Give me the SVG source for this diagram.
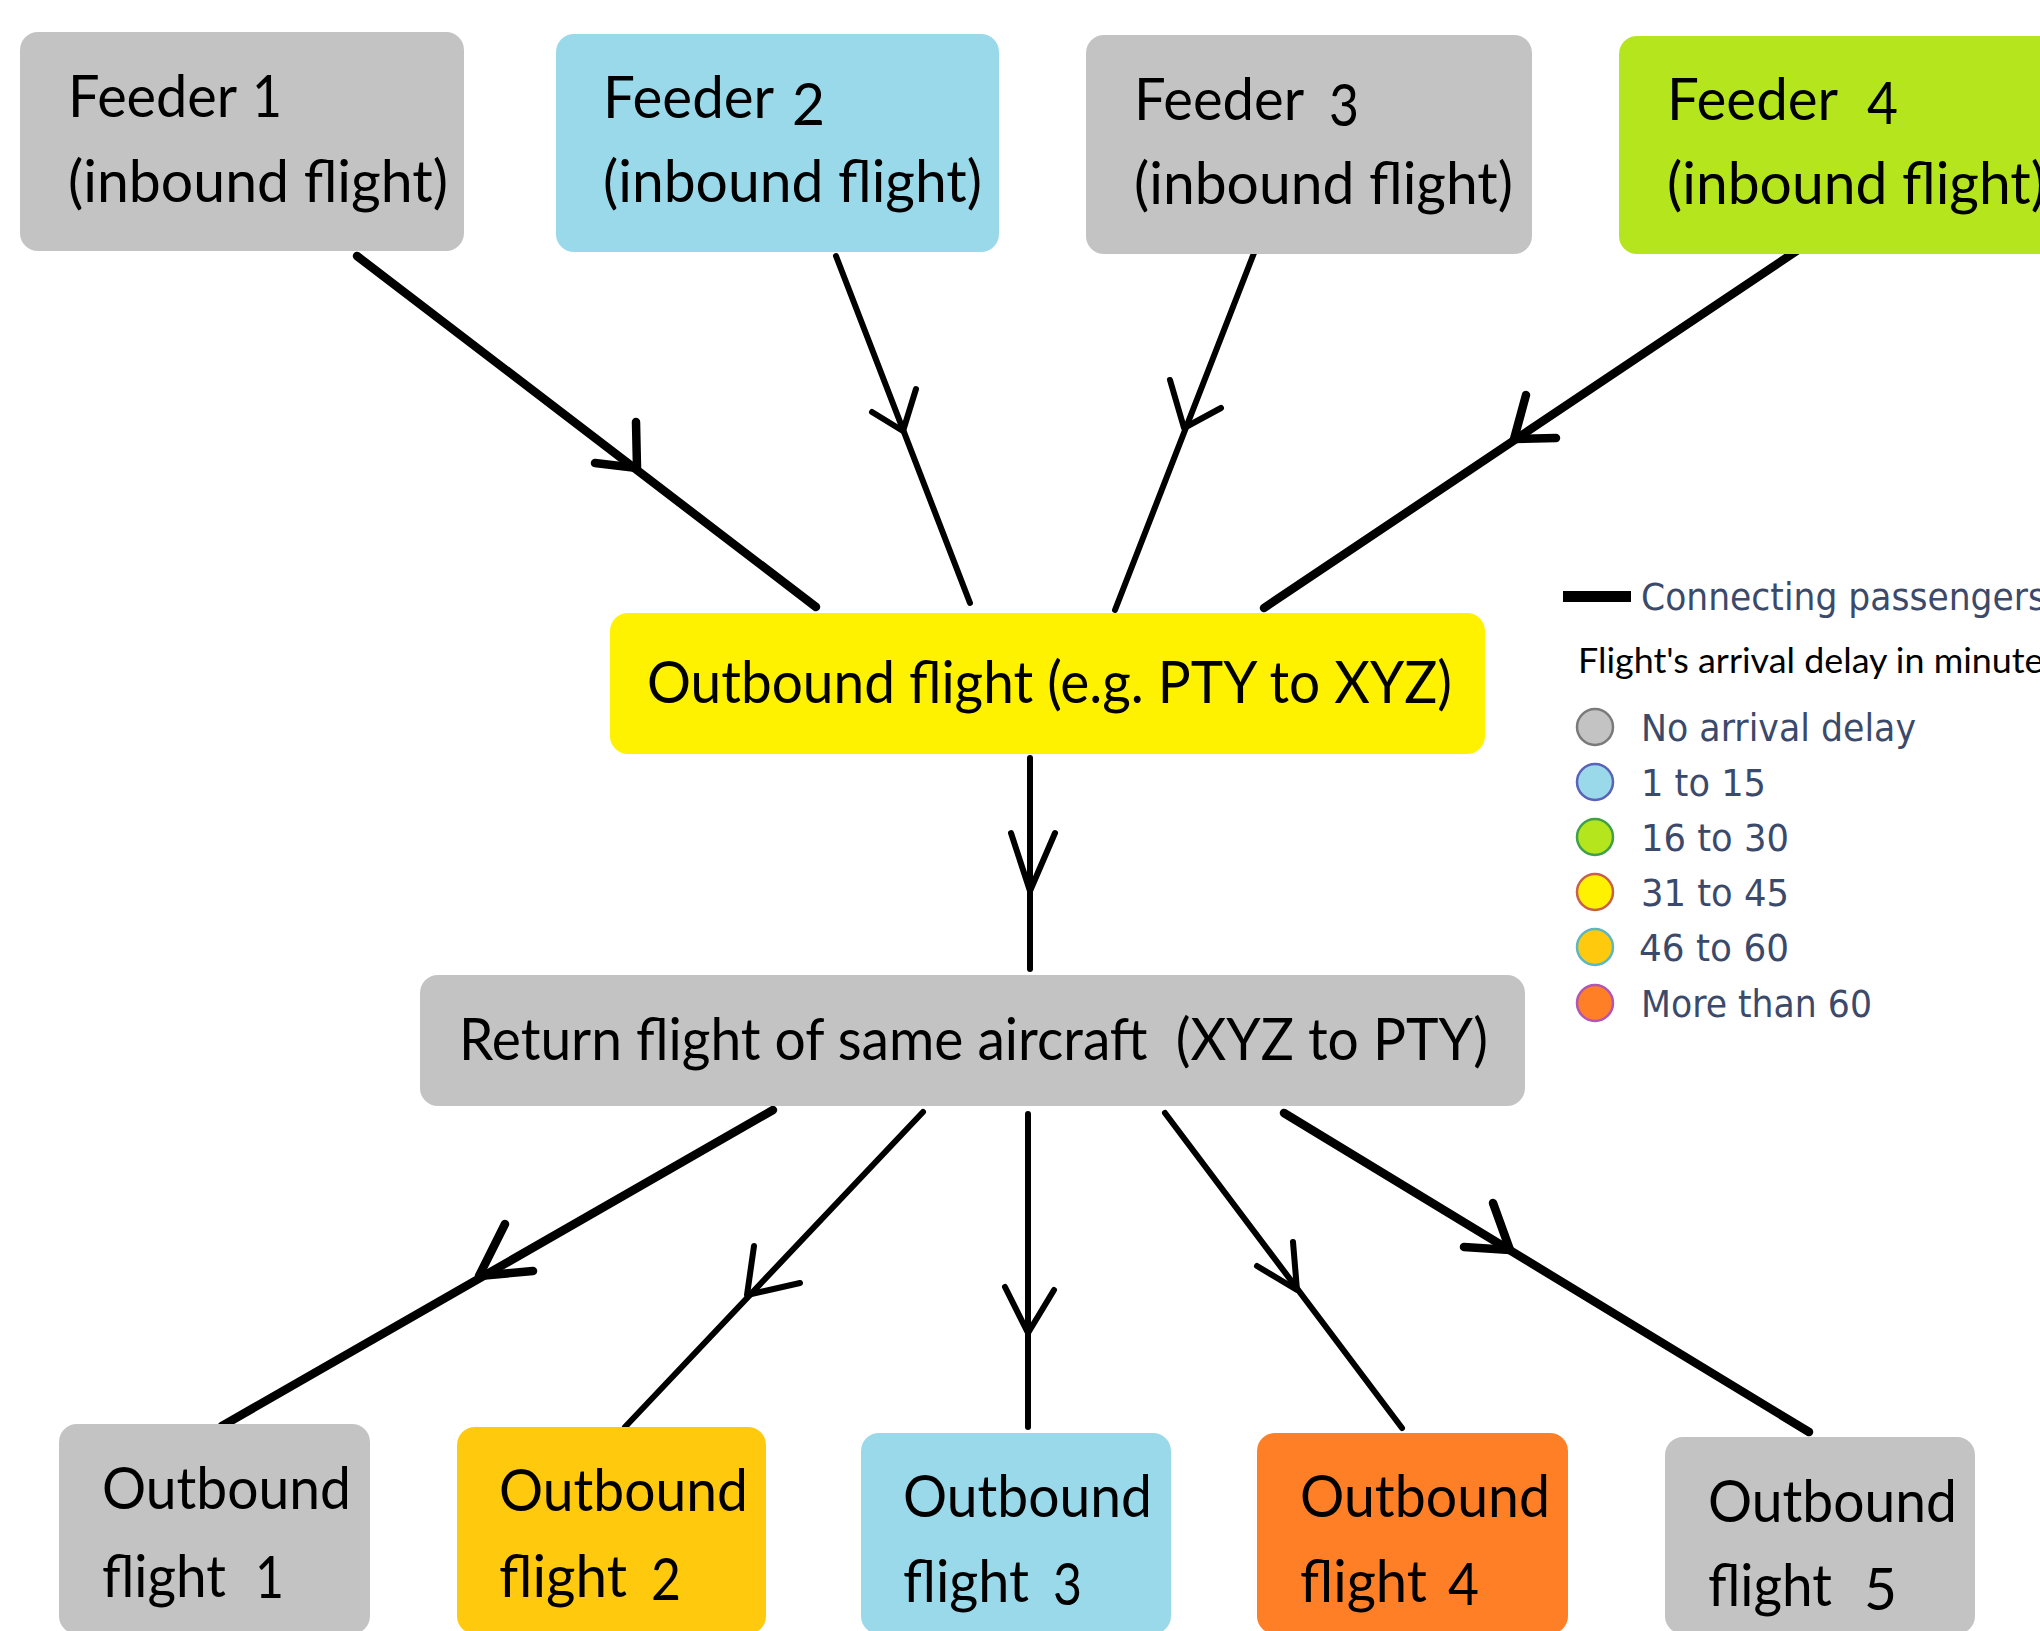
<svg xmlns="http://www.w3.org/2000/svg" width="2040" height="1631" viewBox="0 0 2040 1631">
<style>
.box{stroke:none}
.grey{fill:#c3c3c3}.blue{fill:#99d9ea}.green{fill:#b5e61d}.yellow{fill:#fff200}.gold{fill:#ffc90e}.orange{fill:#ff7f27}
.t{font-family:Lato,"Open Sans","Noto Sans",sans-serif;font-size:58px;fill:#000}
.lg{font-family:"DejaVu Sans",Verdana,sans-serif;font-size:37px;fill:#3b4a6b}
.lt{font-family:Lato,"Open Sans",sans-serif;font-size:35px;fill:#000}
.c{fill:none;stroke:#000;stroke-width:6;stroke-linecap:round;stroke-linejoin:round}
.k{stroke-width:8.5}
</style>
<rect width="2040" height="1631" fill="#fff"/>
<g id="connectors">
<line class="c k" x1="357" y1="256" x2="816" y2="607"/><polyline class="c k" points="636,422 637,468 595,463"/>
<line class="c" x1="836" y1="256" x2="970" y2="603"/><polyline class="c" points="916,389 903,431 872,412"/>
<line class="c" x1="1254" y1="253" x2="1115" y2="610"/><polyline class="c" points="1170,380 1184,428 1221,408"/>
<line class="c k" x1="1798" y1="250" x2="1264" y2="608"/><polyline class="c k" points="1526,395 1514,439 1556,438"/>
<line class="c" x1="1030" y1="758" x2="1030" y2="969"/><polyline class="c" points="1011,833 1030,891 1055,833"/>
<line class="c k" x1="773" y1="1110" x2="222" y2="1426"/><polyline class="c k" points="505,1224 479,1276 533,1271"/>
<line class="c" x1="923" y1="1112" x2="625" y2="1427"/><polyline class="c" points="754,1246 747,1295 800,1283"/>
<line class="c" x1="1028" y1="1114" x2="1028" y2="1427"/><polyline class="c" points="1005,1287 1028,1333 1054,1290"/>
<line class="c" x1="1165" y1="1113" x2="1402" y2="1428"/><polyline class="c" points="1293,1242 1297,1290 1257,1266"/>
<line class="c k" x1="1284" y1="1113" x2="1809" y2="1432"/><polyline class="c k" points="1493,1203 1510,1250 1464,1247"/>
</g>
<g id="feeder1"><rect class="box grey" x="20" y="32" width="444" height="219" rx="18"/>
<text class="t" y="117"><tspan x="68" textLength="168" lengthAdjust="spacingAndGlyphs">Feeder</tspan> <tspan x="252" textLength="30" lengthAdjust="spacingAndGlyphs">1</tspan></text>
<text class="t" x="68" y="202" textLength="380" lengthAdjust="spacingAndGlyphs">(inbound flight)</text></g>
<g id="feeder2"><rect class="box blue" x="556" y="34" width="443" height="218" rx="18"/>
<text class="t" y="118"><tspan x="603" textLength="170" lengthAdjust="spacingAndGlyphs">Feeder</tspan> <tspan x="792" y="125" textLength="33" lengthAdjust="spacingAndGlyphs">2</tspan></text>
<text class="t" x="603" y="202" textLength="379" lengthAdjust="spacingAndGlyphs">(inbound flight)</text></g>
<g id="feeder3"><rect class="box grey" x="1086" y="35" width="446" height="219" rx="18"/>
<text class="t" y="120"><tspan x="1134" textLength="169" lengthAdjust="spacingAndGlyphs">Feeder</tspan> <tspan x="1329" y="126" textLength="30" lengthAdjust="spacingAndGlyphs">3</tspan></text>
<text class="t" x="1134" y="204" textLength="379" lengthAdjust="spacingAndGlyphs">(inbound flight)</text></g>
<g id="feeder4"><rect class="box green" x="1619" y="36" width="460" height="218" rx="18"/>
<text class="t" y="120"><tspan x="1667" textLength="170" lengthAdjust="spacingAndGlyphs">Feeder</tspan> <tspan x="1867" y="124" textLength="31" lengthAdjust="spacingAndGlyphs">4</tspan></text>
<text class="t" x="1667" y="204" textLength="379" lengthAdjust="spacingAndGlyphs">(inbound flight)</text></g>
<g id="outbound"><rect class="box yellow" x="610" y="613" width="875" height="141" rx="18"/>
<text class="t" x="647" y="703" textLength="805" lengthAdjust="spacingAndGlyphs">Outbound flight (e.g. PTY to XYZ)</text></g>
<g id="return"><rect class="box grey" x="420" y="975" width="1105" height="131" rx="18"/>
<text class="t" x="459" y="1060" textLength="1029" lengthAdjust="spacingAndGlyphs" xml:space="preserve">Return flight of same aircraft  (XYZ to PTY)</text></g>
<g id="out1"><rect class="box grey" x="59" y="1424" width="311" height="210" rx="18"/>
<text class="t" x="102" y="1509" textLength="249" lengthAdjust="spacingAndGlyphs">Outbound</text>
<text class="t" y="1597"><tspan x="102" textLength="124" lengthAdjust="spacingAndGlyphs">flight</tspan> <tspan x="255" y="1598" textLength="29" lengthAdjust="spacingAndGlyphs">1</tspan></text></g>
<g id="out2"><rect class="box gold" x="457" y="1427" width="309" height="207" rx="18"/>
<text class="t" x="499" y="1511" textLength="249" lengthAdjust="spacingAndGlyphs">Outbound</text>
<text class="t" y="1597"><tspan x="499" textLength="128" lengthAdjust="spacingAndGlyphs">flight</tspan> <tspan x="651" y="1600" textLength="30" lengthAdjust="spacingAndGlyphs">2</tspan></text></g>
<g id="out3"><rect class="box blue" x="861" y="1433" width="310" height="201" rx="18"/>
<text class="t" x="903" y="1517" textLength="249" lengthAdjust="spacingAndGlyphs">Outbound</text>
<text class="t" y="1602"><tspan x="903" textLength="126" lengthAdjust="spacingAndGlyphs">flight</tspan> <tspan x="1053" y="1605" textLength="29" lengthAdjust="spacingAndGlyphs">3</tspan></text></g>
<g id="out4"><rect class="box orange" x="1257" y="1433" width="311" height="201" rx="18"/>
<text class="t" x="1300" y="1517" textLength="250" lengthAdjust="spacingAndGlyphs">Outbound</text>
<text class="t" y="1602"><tspan x="1300" textLength="127" lengthAdjust="spacingAndGlyphs">flight</tspan> <tspan x="1448" y="1605" textLength="31" lengthAdjust="spacingAndGlyphs">4</tspan></text></g>
<g id="out5"><rect class="box grey" x="1665" y="1437" width="310" height="197" rx="18"/>
<text class="t" x="1708" y="1522" textLength="249" lengthAdjust="spacingAndGlyphs">Outbound</text>
<text class="t" y="1606"><tspan x="1708" textLength="124" lengthAdjust="spacingAndGlyphs">flight</tspan> <tspan x="1864" y="1610" textLength="33" lengthAdjust="spacingAndGlyphs">5</tspan></text></g>
<g id="legend">
<rect x="1563" y="591" width="68" height="11" fill="#000"/>
<text class="lg" x="1641" y="610" textLength="405" lengthAdjust="spacingAndGlyphs">Connecting passengers</text>
<text class="lt" x="1578" y="673" textLength="481" lengthAdjust="spacingAndGlyphs">Flight's arrival delay in minutes</text>
<circle cx="1595" cy="727" r="18" fill="#c3c3c3" stroke="#7a7a7a" stroke-width="2.5"/>
<text class="lg" x="1641" y="741" textLength="275" lengthAdjust="spacingAndGlyphs">No arrival delay</text>
<circle cx="1595" cy="782" r="18" fill="#99d9ea" stroke="#5a63b8" stroke-width="2.5"/>
<text class="lg" x="1641" y="796" textLength="125" lengthAdjust="spacingAndGlyphs">1 to 15</text>
<circle cx="1595" cy="837" r="18" fill="#b5e61d" stroke="#3f9f4a" stroke-width="2.5"/>
<text class="lg" x="1641" y="851" textLength="148" lengthAdjust="spacingAndGlyphs">16 to 30</text>
<circle cx="1595" cy="892" r="18" fill="#fff200" stroke="#c8604a" stroke-width="2.5"/>
<text class="lg" x="1641" y="906" textLength="148" lengthAdjust="spacingAndGlyphs">31 to 45</text>
<circle cx="1595" cy="947" r="18" fill="#ffc90e" stroke="#5bb8c0" stroke-width="2.5"/>
<text class="lg" x="1639" y="961" textLength="150" lengthAdjust="spacingAndGlyphs">46 to 60</text>
<circle cx="1595" cy="1003" r="18" fill="#ff7f27" stroke="#b454b4" stroke-width="2.5"/>
<text class="lg" x="1641" y="1017" textLength="231" lengthAdjust="spacingAndGlyphs">More than 60</text>
</g>
</svg>
